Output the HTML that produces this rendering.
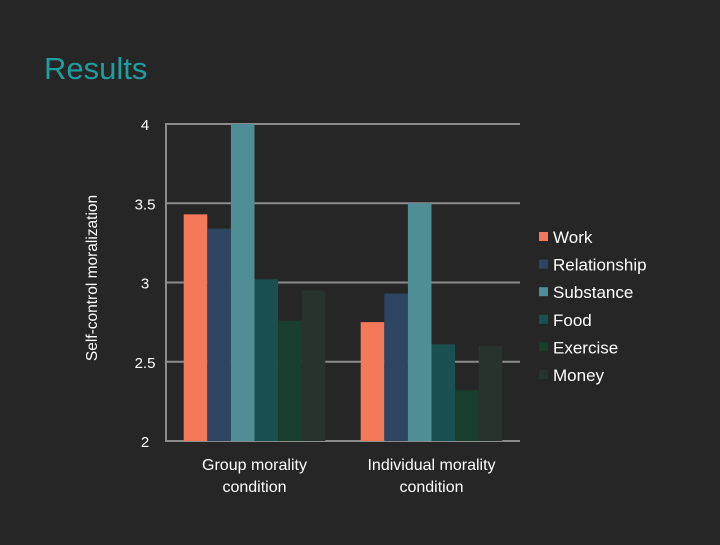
<!DOCTYPE html>
<html><head><meta charset="utf-8"><style>
html,body{margin:0;padding:0;background:#262626;}
body{width:720px;height:540px;overflow:hidden;font-family:"Liberation Sans",sans-serif;}
</style></head><body>
<svg id="chart" width="720" height="540" xmlns="http://www.w3.org/2000/svg">
<rect width="720" height="540" fill="#262626"/>
<text x="44" y="79" font-size="31" fill="#1f9ea0" font-family="Liberation Sans, sans-serif">Results</text>
<text transform="translate(97,278) rotate(-90)" text-anchor="middle" font-size="15.5" fill="#fff" font-family="Liberation Sans, sans-serif">Self-control moralization</text>
<g id="grid"></g><g id="bars"></g><g id="labels"></g><g id="legend"></g>
</svg>
<script>
const categories = ["Group morality|condition", "Individual morality|condition"];
const seriesNames = ["Work","Relationship","Substance","Food","Exercise","Money"];
const seriesColors = ["#f4785a","#2d4560","#4f8e94","#1a5150","#1a3e2c","#28332e"];
const work = [3.43, 2.75];
const relationship = [3.34, 2.93];
const substance = [4.0, 3.5];
const food = [3.02, 2.61];
const exercise = [2.76, 2.32];
const money = [2.95, 2.60];
const yTicks = [2, 2.5, 3, 3.5, 4];
const yTickLabels = ["2","2.5","3","3.5","4"];

const series = [work, relationship, substance, food, exercise, money];
const NS = "http://www.w3.org/2000/svg";
const x0 = 166, x1 = 520, yTop = 124, yBot = 441, yMin = 2, yMax = 4;
const y = v => yBot - (v - yMin) / (yMax - yMin) * (yBot - yTop);
const band = (x1 - x0) / categories.length;
const barW = band * 0.8 / series.length;
function mk(tag, attrs, parent){const e=document.createElementNS(NS,tag);for(const k in attrs)e.setAttribute(k,attrs[k]);parent.appendChild(e);return e;}
const grid = document.getElementById('grid');
yTicks.forEach((t,i)=>{
  const l = mk('line',{x1:x0,x2:x1,y1:y(t),y2:y(t),stroke:'#8c8c8c','stroke-width':2},grid);
  
  
  const tx = mk('text',{x:145,y:y(t)+6,'text-anchor':'middle','font-size':15,fill:'#fff'},grid);
  tx.textContent = yTickLabels[i];
  
  
});
const ax = mk('line',{x1:x0,x2:x0,y1:yTop-1,y2:yBot+1,stroke:'#8c8c8c','stroke-width':2},grid);


const bars = document.getElementById('bars');
categories.forEach((c,ci)=>{
  const gx = x0 + ci*band + band*0.1;
  series.forEach((s,si)=>{
    const r = mk('rect',{x:gx+si*barW,y:y(s[ci]),width:barW,height:yBot-y(s[ci]),fill:seriesColors[si]},bars);
    
    
  });
  const parts = c.split('|');
  parts.forEach((p,pi)=>{
    const t = mk('text',{x:x0+ci*band+band/2,y:470+pi*22,'text-anchor':'middle','font-size':16,fill:'#fff'},document.getElementById('labels'));
    t.textContent = p;
    
    
  });
});
const lg = document.getElementById('legend');
seriesNames.forEach((n,i)=>{
  const yy = 237 + i*27.6;
  const r = mk('rect',{x:539,y:yy-5,width:9,height:9,fill:seriesColors[i]},lg);
  
  
  const t = mk('text',{x:553,y:yy+6,'font-size':17,fill:'#fff'},lg);
  t.textContent = n;
  
  
});
</script>
</body></html>
